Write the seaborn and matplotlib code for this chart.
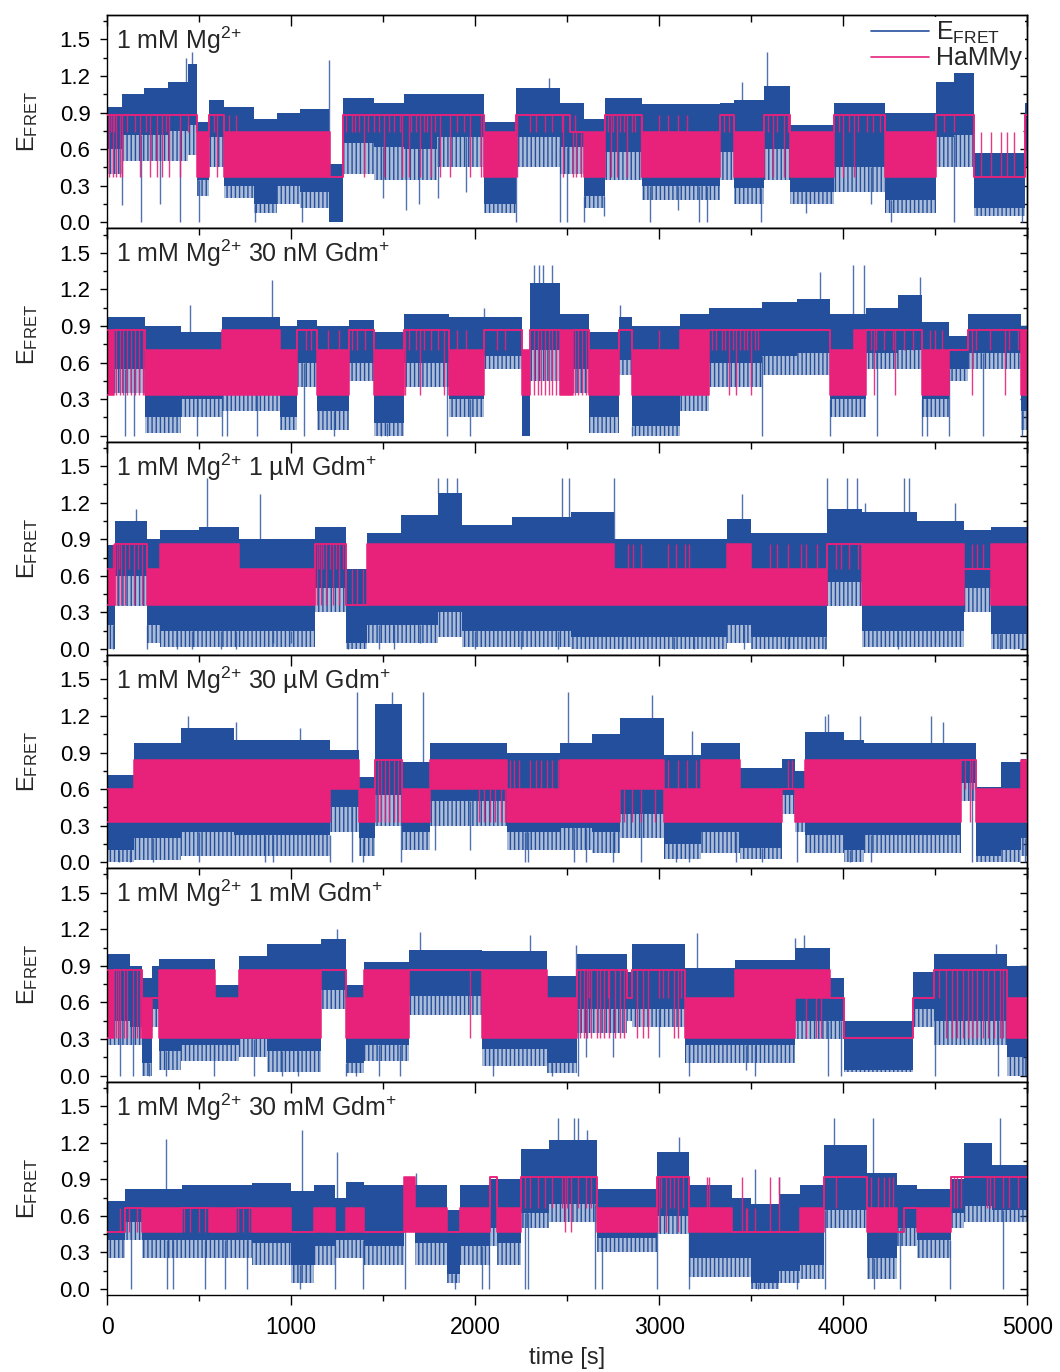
import numpy as np
import pandas as pd
import matplotlib
matplotlib.use("Agg")
import matplotlib.pyplot as plt
import seaborn as sns
from matplotlib.lines import Line2D
from matplotlib.colors import to_rgba
from matplotlib.ticker import MultipleLocator, FormatStrFormatter

# ---------------- data ----------------
LABELS = ["1 mM Mg$^{2{+}}$",
          "1 mM Mg$^{2{+}}$ 30 nM Gdm$^{+}$",
          "1 mM Mg$^{2{+}}$ 1 µM Gdm$^{+}$",
          "1 mM Mg$^{2{+}}$ 30 µM Gdm$^{+}$",
          "1 mM Mg$^{2{+}}$ 1 mM Gdm$^{+}$",
          "1 mM Mg$^{2{+}}$ 30 mM Gdm$^{+}$"]
X_TICKS = [0, 1000, 2000, 3000, 4000, 5000]
Y_TICKS = [0.0, 0.3, 0.6, 0.9, 1.2, 1.5]

# BLUE_T: segment limits [s]; BLUE_LO: lowest excursions; BLUE_CORE: lower edge of the
# dense part of the trace; BLUE_HI: upper edge of the trace; SPIKE_*: single excursions.
# HMM_*: HaMMy path, LO/HI equal for a dwell, different for fast switching between them.
# TO_LOW/MID/HIGH: times of brief HaMMy visits to the low/middle/high state.

# ---- panel 1 ----
P1_STATES = [0.37, 0.74, 0.88]
P1_BLUE_T = [0, 80, 200, 330, 440, 490, 553, 634, 797, 924, 1050, 1205, 1283, 1450, 1613, 1794, 2048, 2220, 2464, 2590, 2708, 2908, 3333, 3406, 3569, 3714, 3950, 4230, 4502, 4600, 4711, 4990, 5000]
P1_BLUE_LO = [0.40, 0.50, 0.50, 0.50, 0.55, 0.22, 0.45, 0.20, 0.08, 0.15, 0.12, 0.00, 0.40, 0.35, 0.35, 0.45, 0.08, 0.45, 0.40, 0.12, 0.35, 0.18, 0.35, 0.15, 0.35, 0.15, 0.25, 0.08, 0.45, 0.45, 0.05, 0.45]
P1_BLUE_CORE = [0.60, 0.72, 0.72, 0.75, 0.80, 0.35, 0.70, 0.30, 0.15, 0.30, 0.25, 0.00, 0.65, 0.62, 0.60, 0.70, 0.15, 0.70, 0.62, 0.22, 0.58, 0.30, 0.58, 0.28, 0.60, 0.25, 0.45, 0.18, 0.70, 0.72, 0.12, 0.60]
P1_BLUE_HI = [0.95, 1.05, 1.10, 1.15, 1.30, 0.82, 1.00, 0.95, 0.85, 0.90, 0.93, 0.48, 1.02, 0.98, 1.05, 1.05, 0.82, 1.10, 0.98, 0.85, 1.02, 0.97, 0.98, 1.00, 1.12, 0.80, 0.98, 0.90, 1.15, 1.30, 0.57, 0.98]
P1_SPIKE_T = [81, 185, 290, 399, 430, 460, 498, 806, 1060, 1205, 1500, 1627, 1694, 1800, 1950, 2220, 2400, 2464, 2500, 2591, 2700, 2953, 3100, 3216, 3261, 3451, 3551, 3587, 3800, 4150, 4258, 4602, 4650, 4690, 4973]
P1_SPIKE_Y = [0.14, 0.00, 0.15, 0.00, 1.35, 1.40, 0.00, 0.00, 0.00, 1.33, 0.20, 0.10, 0.15, 0.20, 0.25, 0.00, 1.18, 0.00, 0.00, 0.00, 0.05, 0.00, 0.10, 0.00, 0.00, 1.15, 0.00, 1.40, 0.08, 0.15, 0.00, 0.00, 1.40, 1.40, 0.00]
P1_HMM_T = [0, 490, 553, 634, 1214, 1283, 2048, 2220, 2518, 2590, 2708, 2908, 3333, 3406, 3569, 3714, 3950, 4230, 4502, 4711, 4990, 5000]
P1_HMM_LO = [0.88, 0.37, 0.88, 0.37, 0.37, 0.88, 0.37, 0.88, 0.74, 0.37, 0.88, 0.37, 0.88, 0.37, 0.88, 0.37, 0.88, 0.37, 0.88, 0.37, 0.88]
P1_HMM_HI = [0.88, 0.74, 0.88, 0.74, 0.37, 0.88, 0.74, 0.88, 0.74, 0.74, 0.88, 0.74, 0.88, 0.74, 0.88, 0.74, 0.88, 0.74, 0.88, 0.37, 0.88]
P1_TO_LOW = [12, 30, 50, 70, 81, 181, 236, 272, 299, 335, 399, 600, 1395, 1504, 1603, 1640, 1700, 1760, 1812, 1866, 1975, 2030, 2230, 2480, 2530, 2550, 2575, 2736, 2772, 2826, 2899, 3620, 3680, 4000, 4060]
P1_TO_MID = [20, 40, 110, 150, 210, 320, 440, 580, 1300, 1330, 1350, 1370, 1420, 1450, 1480, 1530, 1560, 1590, 1650, 1680, 1720, 1740, 1780, 1900, 1940, 2300, 2330, 2380, 2420, 2470, 2720, 2750, 2790, 2810, 2850, 2870, 3350, 3380, 3590, 3640, 3700, 3980, 4030, 4080, 4130, 4160, 4200, 4548, 4602, 4747, 4801, 4856, 4892, 4928]
P1_TO_HIGH = [660, 700, 2545, 3000, 3050, 3100, 3150]

# ---- panel 2 ----
P2_STATES = [0.33, 0.70, 0.87]
P2_BLUE_T = [0, 208, 400, 625, 940, 1032, 1140, 1313, 1450, 1613, 1857, 2048, 2256, 2301, 2464, 2618, 2781, 2853, 3116, 3270, 3560, 3750, 3928, 4122, 4300, 4430, 4575, 4678, 4964, 5000]
P2_BLUE_LO = [0.35, 0.02, 0.15, 0.20, 0.05, 0.40, 0.05, 0.45, 0.00, 0.40, 0.15, 0.55, 0.00, 0.45, 0.35, 0.02, 0.50, 0.00, 0.20, 0.40, 0.50, 0.50, 0.15, 0.55, 0.55, 0.15, 0.45, 0.55, 0.05]
P2_BLUE_CORE = [0.55, 0.15, 0.30, 0.35, 0.15, 0.60, 0.20, 0.60, 0.10, 0.60, 0.30, 0.65, 0.00, 0.70, 0.55, 0.15, 0.62, 0.08, 0.40, 0.60, 0.65, 0.68, 0.30, 0.68, 0.70, 0.30, 0.55, 0.68, 0.20]
P2_BLUE_HI = [0.97, 0.90, 0.85, 0.97, 0.90, 0.95, 0.90, 0.95, 0.85, 1.00, 0.97, 0.97, 0.70, 1.25, 1.00, 0.85, 0.97, 0.90, 1.00, 1.05, 1.10, 1.12, 1.00, 1.05, 1.15, 0.93, 0.82, 1.00, 0.90]
P2_SPIKE_T = [100, 145, 453, 489, 625, 652, 815, 897, 1069, 1232, 1486, 1522, 1848, 1975, 2048, 2320, 2345, 2370, 2420, 2786, 2853, 3560, 3877, 3928, 4055, 4113, 4185, 4420, 4430, 4457, 4575, 4761, 4973]
P2_SPIKE_Y = [0.00, 0.00, 1.07, 0.00, 0.00, 0.00, 0.00, 1.28, 0.00, 0.00, 0.00, 0.00, 0.00, 0.00, 1.05, 1.40, 1.40, 1.40, 1.40, 1.07, 0.00, 0.00, 1.34, 0.00, 1.40, 1.40, 0.00, 1.30, 0.00, 0.00, 0.00, 0.00, 0.00]
P2_HMM_T = [0, 40, 208, 625, 940, 1032, 1140, 1313, 1450, 1613, 1857, 2048, 2256, 2301, 2464, 2530, 2618, 2781, 2853, 3116, 3270, 3928, 4060, 4122, 4430, 4575, 4678, 4964, 5000]
P2_HMM_LO = [0.33, 0.87, 0.33, 0.33, 0.33, 0.87, 0.33, 0.87, 0.33, 0.87, 0.33, 0.87, 0.33, 0.87, 0.33, 0.87, 0.33, 0.87, 0.33, 0.33, 0.87, 0.33, 0.33, 0.87, 0.33, 0.70, 0.87, 0.33]
P2_HMM_HI = [0.87, 0.87, 0.70, 0.87, 0.70, 0.87, 0.70, 0.87, 0.70, 0.87, 0.70, 0.87, 0.70, 0.87, 0.87, 0.87, 0.70, 0.87, 0.70, 0.87, 0.87, 0.70, 0.87, 0.87, 0.70, 0.70, 0.87, 0.87]
P2_TO_LOW = [50, 70, 85, 110, 130, 150, 175, 195, 1620, 1700, 1830, 2320, 2340, 2360, 2380, 2400, 2420, 2440, 2545, 2560, 2580, 2600, 3380, 3420, 3500, 4170, 4280, 4700, 4880]
P2_TO_MID = [1080, 1110, 1330, 1360, 1400, 1640, 1680, 1720, 1760, 1800, 2120, 2160, 3290, 3310, 3340, 3360, 3400, 3440, 3460, 3480, 3520, 3540, 4150, 4180, 4220, 4270, 4330, 4380, 4720, 4800, 4900, 4950]
P2_TO_HIGH = [1200, 1260, 1900, 1950, 3000, 4470, 4500, 4540]

# ---- panel 3 ----
P3_STATES = [0.36, 0.66, 0.86]
P3_BLUE_T = [0, 45, 217, 290, 500, 716, 1132, 1296, 1413, 1600, 1800, 1930, 2200, 2520, 2754, 3370, 3497, 3913, 4104, 4400, 4656, 4801, 5000]
P3_BLUE_LO = [0.00, 0.35, 0.05, 0.02, 0.02, 0.02, 0.30, 0.00, 0.05, 0.05, 0.10, 0.02, 0.02, 0.00, 0.00, 0.05, 0.00, 0.35, 0.02, 0.02, 0.30, 0.00]
P3_BLUE_CORE = [0.20, 0.60, 0.20, 0.15, 0.15, 0.15, 0.50, 0.05, 0.20, 0.20, 0.30, 0.15, 0.15, 0.10, 0.10, 0.20, 0.10, 0.55, 0.15, 0.15, 0.50, 0.12]
P3_BLUE_HI = [0.85, 1.05, 0.90, 0.98, 1.00, 0.90, 1.00, 0.66, 0.95, 1.10, 1.28, 1.02, 1.08, 1.12, 0.90, 1.07, 0.95, 1.15, 1.12, 1.05, 0.98, 1.00]
P3_SPIKE_T = [30, 155, 217, 380, 460, 545, 620, 700, 829, 900, 1000, 1310, 1480, 1560, 1700, 1800, 1850, 1900, 2000, 2250, 2450, 2475, 2511, 2754, 2800, 3080, 3190, 3451, 3460, 3700, 3800, 3900, 3913, 4022, 4073, 4120, 4300, 4330, 4357, 4500, 4610, 4850, 4930]
P3_SPIKE_Y = [0.00, 1.15, 0.00, 0.00, 0.00, 1.40, 0.00, 0.00, 1.27, 0.05, 0.05, 0.00, 0.00, 0.00, 0.05, 1.40, 1.40, 1.40, 0.00, 0.00, 0.00, 1.40, 1.40, 1.40, 0.00, 0.00, 0.00, 1.27, 0.00, 0.00, 0.00, 0.00, 1.40, 1.40, 1.40, 1.20, 0.00, 1.40, 1.40, 0.05, 1.20, 0.00, 0.00]
P3_HMM_T = [0, 45, 217, 290, 716, 1132, 1296, 1413, 2754, 3370, 3497, 3913, 4104, 4656, 4801, 5000]
P3_HMM_LO = [0.36, 0.86, 0.36, 0.36, 0.36, 0.86, 0.36, 0.36, 0.36, 0.36, 0.36, 0.86, 0.36, 0.66, 0.36]
P3_HMM_HI = [0.66, 0.86, 0.66, 0.86, 0.66, 0.86, 0.36, 0.86, 0.66, 0.86, 0.66, 0.86, 0.86, 0.66, 0.86]
P3_TO_LOW = [55, 75, 100, 145, 190, 1140, 1160, 1190, 1230, 1260]
P3_TO_MID = [65, 120, 170, 1150, 1175, 1210, 1245, 1280, 1330, 1360, 1390, 3960, 3990, 4030, 4080]
P3_TO_HIGH = [30, 2830, 2860, 2900, 3050, 3090, 3140, 3160, 3600, 3640, 3700, 3770, 3800, 3860, 4700, 4730, 4760]

# ---- panel 4 ----
P4_STATES = [0.33, 0.60, 0.84]
P4_BLUE_T = [0, 145, 400, 690, 1000, 1214, 1368, 1458, 1603, 1757, 2174, 2464, 2636, 2790, 3025, 3225, 3442, 3669, 3741, 3795, 4004, 4113, 4638, 4720, 4856, 4964, 5000]
P4_BLUE_LO = [0.00, 0.02, 0.05, 0.05, 0.05, 0.25, 0.05, 0.30, 0.10, 0.30, 0.10, 0.10, 0.08, 0.20, 0.03, 0.08, 0.03, 0.40, 0.25, 0.08, 0.00, 0.08, 0.50, 0.00, 0.00, 0.05]
P4_BLUE_CORE = [0.10, 0.20, 0.25, 0.22, 0.22, 0.45, 0.20, 0.55, 0.25, 0.50, 0.25, 0.28, 0.25, 0.40, 0.15, 0.25, 0.12, 0.55, 0.40, 0.22, 0.10, 0.22, 0.65, 0.05, 0.10, 0.20]
P4_BLUE_HI = [0.72, 0.98, 1.10, 1.00, 1.00, 0.92, 0.70, 1.30, 0.82, 0.98, 0.90, 0.98, 1.05, 1.18, 0.88, 0.98, 0.77, 0.85, 0.75, 1.07, 1.00, 0.98, 0.98, 0.62, 0.82, 0.85]
P4_SPIKE_T = [65, 125, 250, 440, 500, 700, 860, 900, 1050, 1210, 1330, 1359, 1390, 1550, 1600, 1718, 1780, 1970, 2270, 2290, 2505, 2540, 2600, 2750, 2900, 2960, 3090, 3160, 3180, 3420, 3560, 3750, 3900, 3920, 4040, 4090, 4150, 4475, 4545, 4700, 4990]
P4_SPIKE_Y = [0.00, 0.00, 0.00, 1.20, 0.00, 1.15, 0.00, 0.00, 1.10, 0.00, 0.00, 1.40, 0.00, 1.40, 0.00, 1.40, 0.10, 0.10, 0.00, 0.00, 1.40, 0.00, 0.00, 0.00, 0.00, 1.37, 0.00, 0.00, 1.08, 0.00, 0.00, 0.00, 1.20, 1.22, 0.00, 1.20, 0.00, 1.20, 1.15, 0.00, 0.00]
P4_HMM_T = [0, 145, 1214, 1368, 1458, 1603, 1757, 2174, 2464, 2790, 3025, 3225, 3442, 3669, 3741, 3795, 4638, 4720, 4964, 5000]
P4_HMM_LO = [0.33, 0.33, 0.60, 0.33, 0.84, 0.33, 0.60, 0.33, 0.33, 0.60, 0.33, 0.33, 0.33, 0.60, 0.33, 0.33, 0.84, 0.33, 0.33]
P4_HMM_HI = [0.60, 0.84, 0.84, 0.60, 0.84, 0.60, 0.84, 0.60, 0.84, 0.84, 0.60, 0.84, 0.60, 0.60, 0.60, 0.84, 0.84, 0.60, 0.84]
P4_TO_LOW = [1470, 1490, 1510, 1530, 1560, 1580, 2020, 2050, 2080, 2110, 2140, 2160, 2810, 2850, 2900, 2980, 4690]
P4_TO_MID = [4660, 4700]
P4_TO_HIGH = [2190, 2210, 2240, 2300, 2330, 2360, 2390, 2420, 2450, 3050, 3100, 3150, 3200, 3700, 3720]

# ---- panel 5 ----
P5_STATES = [0.31, 0.64, 0.87]
P5_BLUE_T = [0, 125, 190, 245, 281, 400, 589, 716, 870, 1160, 1296, 1395, 1640, 2038, 2392, 2554, 2826, 2853, 3143, 3415, 3740, 3930, 4004, 4381, 4493, 4892, 5000]
P5_BLUE_LO = [0.25, 0.25, 0.00, 0.40, 0.05, 0.12, 0.12, 0.15, 0.03, 0.55, 0.02, 0.12, 0.50, 0.08, 0.02, 0.35, 0.45, 0.40, 0.10, 0.10, 0.30, 0.30, 0.03, 0.40, 0.25, 0.00]
P5_BLUE_CORE = [0.45, 0.40, 0.10, 0.55, 0.20, 0.25, 0.25, 0.30, 0.20, 0.70, 0.10, 0.25, 0.65, 0.22, 0.10, 0.55, 0.55, 0.55, 0.25, 0.25, 0.45, 0.45, 0.05, 0.55, 0.45, 0.15]
P5_BLUE_HI = [1.00, 0.90, 0.80, 0.90, 0.96, 0.96, 0.74, 0.98, 1.08, 1.12, 0.74, 0.93, 1.03, 1.02, 0.82, 1.00, 0.85, 1.08, 0.88, 0.95, 1.05, 0.80, 0.45, 0.85, 1.00, 0.90]
P5_SPIKE_T = [72, 140, 230, 320, 580, 800, 950, 1040, 1250, 1300, 1355, 1480, 1590, 1700, 2100, 2300, 2420, 2550, 2560, 2600, 2750, 3000, 3165, 3205, 3470, 3520, 3740, 3790, 3920, 3990, 4500, 4830, 4840, 4990]
P5_SPIKE_Y = [0.00, 0.00, 0.00, 0.00, 0.00, 0.00, 0.00, 0.00, 1.20, 0.00, 0.00, 0.00, 0.00, 1.18, 0.00, 1.15, 0.00, 1.07, 0.00, 0.15, 0.15, 0.15, 0.00, 1.17, 0.05, 0.00, 1.13, 1.15, 0.00, 0.00, 0.00, 1.08, 0.00, 0.00]
P5_HMM_T = [0, 40, 190, 245, 281, 589, 716, 1160, 1296, 1395, 1640, 2038, 2392, 2554, 2826, 2853, 3143, 3415, 3740, 3930, 4004, 4381, 4493, 4892, 5000]
P5_HMM_LO = [0.31, 0.87, 0.31, 0.64, 0.31, 0.31, 0.31, 0.87, 0.31, 0.31, 0.87, 0.31, 0.31, 0.87, 0.64, 0.87, 0.31, 0.31, 0.64, 0.64, 0.31, 0.64, 0.87, 0.31]
P5_HMM_HI = [0.87, 0.87, 0.64, 0.64, 0.87, 0.64, 0.87, 0.87, 0.64, 0.87, 0.87, 0.87, 0.64, 0.87, 0.64, 0.87, 0.64, 0.87, 0.87, 0.64, 0.31, 0.64, 0.87, 0.64]
P5_TO_LOW = [50, 60, 70, 90, 110, 140, 160, 180, 1975, 2570, 2590, 2610, 2630, 2660, 2680, 2700, 2730, 2760, 2790, 2810, 2880, 2910, 2940, 3080, 3100, 3800, 3850, 3880, 4560, 4590, 4620, 4650, 4680, 4700, 4730, 4760, 4790, 4820, 4850, 4870]
P5_TO_MID = [2620, 2720, 3000, 3020, 3050, 3120, 4520]
P5_TO_HIGH = []

# ---- panel 6 ----
P6_STATES = [0.47, 0.66, 0.92]
P6_BLUE_T = [0, 100, 190, 408, 553, 788, 997, 1123, 1241, 1296, 1395, 1613, 1676, 1848, 1920, 2083, 2120, 2247, 2400, 2663, 2989, 3161, 3397, 3497, 3650, 3768, 3895, 4131, 4294, 4403, 4584, 4656, 4810, 5000]
P6_BLUE_LO = [0.25, 0.40, 0.25, 0.25, 0.25, 0.20, 0.05, 0.20, 0.25, 0.25, 0.20, 0.50, 0.20, 0.05, 0.20, 0.35, 0.20, 0.50, 0.55, 0.30, 0.45, 0.10, 0.10, 0.00, 0.05, 0.08, 0.50, 0.08, 0.35, 0.25, 0.50, 0.55, 0.55]
P6_BLUE_CORE = [0.40, 0.55, 0.40, 0.40, 0.40, 0.38, 0.20, 0.35, 0.40, 0.40, 0.35, 0.62, 0.38, 0.12, 0.35, 0.50, 0.38, 0.62, 0.70, 0.42, 0.60, 0.25, 0.25, 0.05, 0.15, 0.20, 0.65, 0.25, 0.50, 0.40, 0.62, 0.68, 0.65]
P6_BLUE_HI = [0.72, 0.82, 0.82, 0.85, 0.85, 0.87, 0.80, 0.85, 0.75, 0.88, 0.85, 0.92, 0.85, 0.65, 0.85, 0.90, 0.90, 1.15, 1.22, 0.82, 1.12, 0.85, 0.75, 0.70, 0.78, 0.85, 1.18, 0.95, 0.85, 0.82, 0.90, 1.20, 1.02]
P6_SPIKE_T = [128, 321, 325, 360, 530, 640, 760, 1050, 1059, 1240, 1250, 1390, 1620, 1680, 1890, 2040, 2075, 2270, 2290, 2450, 2540, 2560, 2610, 2650, 2690, 2990, 3110, 3160, 3520, 3540, 3650, 3750, 3900, 3950, 4160, 4170, 4310, 4580, 4850, 4870]
P6_SPIKE_Y = [0.00, 1.23, 0.00, 0.00, 0.00, 0.00, 0.00, 0.00, 1.30, 0.00, 1.12, 0.00, 0.00, 0.95, 0.00, 0.00, 0.00, 0.00, 0.00, 1.40, 1.40, 1.40, 1.30, 0.00, 0.00, 0.00, 1.25, 0.00, 0.98, 0.00, 0.92, 0.00, 0.00, 1.40, 1.40, 0.00, 0.00, 0.00, 1.40, 0.00]
P6_HMM_T = [0, 100, 190, 408, 553, 698, 788, 997, 1123, 1241, 1296, 1395, 1613, 1676, 1848, 1920, 2083, 2120, 2247, 2663, 2989, 3161, 3397, 3768, 3895, 4131, 4294, 4330, 4403, 4584, 5000]
P6_HMM_LO = [0.47, 0.66, 0.47, 0.66, 0.47, 0.66, 0.47, 0.47, 0.47, 0.47, 0.47, 0.47, 0.47, 0.47, 0.47, 0.47, 0.92, 0.47, 0.92, 0.47, 0.92, 0.47, 0.47, 0.47, 0.92, 0.47, 0.47, 0.66, 0.47, 0.92]
P6_HMM_HI = [0.47, 0.66, 0.66, 0.66, 0.66, 0.66, 0.66, 0.47, 0.66, 0.47, 0.66, 0.47, 0.92, 0.66, 0.47, 0.66, 0.92, 0.66, 0.92, 0.66, 0.92, 0.66, 0.47, 0.66, 0.92, 0.66, 0.47, 0.66, 0.66, 0.92]
P6_TO_LOW = [120, 160, 420, 450, 500, 530, 710, 740, 770, 2490, 2520, 3000, 3040, 3100]
P6_TO_MID = [70, 2270, 2300, 2340, 2380, 2420, 2470, 2500, 2560, 2600, 2630, 3010, 3060, 3080, 3130, 3470, 3480, 3520, 3960, 4600, 4620, 4640, 4780, 4800, 4820, 4870, 4900, 4950]
P6_TO_HIGH = [3260, 3270, 3450, 3600, 3650, 4150, 4190, 4220, 4250, 4270]

PANELS = [
    (P1_BLUE_T, P1_BLUE_LO, P1_BLUE_CORE, P1_BLUE_HI, P1_SPIKE_T, P1_SPIKE_Y, P1_HMM_T, P1_HMM_LO, P1_HMM_HI, P1_STATES, P1_TO_LOW, P1_TO_MID, P1_TO_HIGH),
    (P2_BLUE_T, P2_BLUE_LO, P2_BLUE_CORE, P2_BLUE_HI, P2_SPIKE_T, P2_SPIKE_Y, P2_HMM_T, P2_HMM_LO, P2_HMM_HI, P2_STATES, P2_TO_LOW, P2_TO_MID, P2_TO_HIGH),
    (P3_BLUE_T, P3_BLUE_LO, P3_BLUE_CORE, P3_BLUE_HI, P3_SPIKE_T, P3_SPIKE_Y, P3_HMM_T, P3_HMM_LO, P3_HMM_HI, P3_STATES, P3_TO_LOW, P3_TO_MID, P3_TO_HIGH),
    (P4_BLUE_T, P4_BLUE_LO, P4_BLUE_CORE, P4_BLUE_HI, P4_SPIKE_T, P4_SPIKE_Y, P4_HMM_T, P4_HMM_LO, P4_HMM_HI, P4_STATES, P4_TO_LOW, P4_TO_MID, P4_TO_HIGH),
    (P5_BLUE_T, P5_BLUE_LO, P5_BLUE_CORE, P5_BLUE_HI, P5_SPIKE_T, P5_SPIKE_Y, P5_HMM_T, P5_HMM_LO, P5_HMM_HI, P5_STATES, P5_TO_LOW, P5_TO_MID, P5_TO_HIGH),
    (P6_BLUE_T, P6_BLUE_LO, P6_BLUE_CORE, P6_BLUE_HI, P6_SPIKE_T, P6_SPIKE_Y, P6_HMM_T, P6_HMM_LO, P6_HMM_HI, P6_STATES, P6_TO_LOW, P6_TO_MID, P6_TO_HIGH),
]

# ---------------- style ----------------
BLUE = "#244f9d"
PINK = "#e8217b"

sns.set_theme(style="ticks")
plt.rcParams["font.family"] = ["Liberation Sans", "DejaVu Sans"]
plt.rcParams["mathtext.fontset"] = "custom"
plt.rcParams["mathtext.rm"] = "Liberation Sans"
plt.rcParams["mathtext.it"] = "Liberation Sans"
plt.rcParams["mathtext.default"] = "regular"
plt.rcParams["axes.edgecolor"] = "black"
plt.rcParams["axes.linewidth"] = 1.0
plt.rcParams["xtick.color"] = "black"
plt.rcParams["ytick.color"] = "black"
plt.rcParams["hatch.linewidth"] = 1.0
plt.rcParams["hatch.color"] = BLUE


def ext(a):
    a = np.asarray(a, float)
    return np.append(a, a[-1])


def draw_panel(ax, bt, blo, bcore, bhi, sp_t, sp_y, ht, hlo, hhi, states, to_low, to_mid, to_high):
    bt = np.asarray(bt, float)
    blo = np.asarray(blo, float)
    bcore = np.asarray(bcore, float)
    bhi = np.asarray(bhi, float)
    # E_FRET trace: sparse lower excursions (thin strokes) and dense part (solid)
    ax.fill_between(bt, ext(blo), ext(bcore), step="post",
                    facecolor=to_rgba(BLUE, 0.38), edgecolor=BLUE, hatch="||||",
                    lw=0, zorder=1)
    ax.fill_between(bt, ext(bcore), ext(bhi), step="post", color=BLUE, lw=0, zorder=1)
    sp_t = np.asarray(sp_t, float)
    sp_y = np.asarray(sp_y, float)
    i = np.clip(np.searchsorted(bt, sp_t, side="right") - 1, 0, len(blo) - 1)
    base = np.where(sp_y > bhi[i], bhi[i], bcore[i])
    ax.vlines(sp_t, np.minimum(base, sp_y), np.maximum(base, sp_y),
              color=BLUE, lw=1.0, alpha=0.8, zorder=1.5)
    # HaMMy fit
    ht = np.asarray(ht, float)
    hlo = np.asarray(hlo, float)
    hhi = np.asarray(hhi, float)
    ax.fill_between(ht, ext(hlo), ext(hhi), step="post", color=PINK, lw=0, zorder=2)
    df = pd.DataFrame({"t": ht, "hi": ext(hhi), "lo": ext(hlo)})
    for col in ("hi", "lo"):
        sns.lineplot(data=df, x="t", y=col, ax=ax, color=PINK, lw=1.1,
                     drawstyle="steps-post", estimator=None, sort=False,
                     legend=False, zorder=3)
    for targets, level in zip((to_low, to_mid, to_high), states):
        ft = np.asarray(targets, float)
        if ft.size == 0:
            continue
        j = np.clip(np.searchsorted(ht, ft, side="right") - 1, 0, len(hlo) - 1)
        up = level > hhi[j]
        dn = level < hlo[j]
        if up.any():
            ax.vlines(ft[up], hhi[j][up], level, color=PINK, lw=1.0, alpha=0.9, zorder=3)
        if dn.any():
            ax.vlines(ft[dn], level, hlo[j][dn], color=PINK, lw=1.0, alpha=0.9, zorder=3)


fig = plt.figure(figsize=(10.6, 13.72), dpi=100)
axes = fig.subplots(6, 1, sharex=True)
fig.subplots_adjust(left=0.101, right=0.969, top=0.989, bottom=0.0561, hspace=0)

for k, ax in enumerate(axes):
    draw_panel(ax, *PANELS[k])
    ax.set_xlim(0, 5000)
    ax.set_ylim(-0.05, 1.70)
    ax.set_yticks(Y_TICKS)
    ax.yaxis.set_minor_locator(MultipleLocator(0.15))
    ax.yaxis.set_major_formatter(FormatStrFormatter("%.1f"))
    ax.set_xticks(X_TICKS)
    ax.xaxis.set_minor_locator(MultipleLocator(500))
    ax.tick_params(axis="y", which="major", direction="out", length=5, width=1.0,
                   labelsize=16, pad=7, left=True, right=False)
    ax.tick_params(axis="y", which="minor", direction="out", length=3, width=1.0,
                   left=True, right=False)
    ax.tick_params(axis="x", which="major", direction="out", length=7, width=1.0,
                   labelsize=16.5, pad=8, bottom=True, top=False)
    ax.tick_params(axis="x", which="minor", direction="out", length=4, width=1.0,
                   bottom=True, top=False)
    secx = ax.secondary_xaxis("top")
    secx.set_xticks(X_TICKS)
    secx.xaxis.set_minor_locator(MultipleLocator(500))
    secx.tick_params(which="major", direction="in", length=8, width=1.0, labeltop=False)
    secx.tick_params(which="minor", direction="in", length=5, width=1.0, labeltop=False)
    secy = ax.secondary_yaxis("right")
    secy.set_yticks(Y_TICKS)
    secy.yaxis.set_minor_locator(MultipleLocator(0.15))
    secy.tick_params(which="major", direction="in", length=5, width=1.0, labelright=False)
    secy.tick_params(which="minor", direction="in", length=3, width=1.0, labelright=False)
    ax.set_ylabel("E$_{FRET}$", fontsize=17, labelpad=14)
    ax.set_xlabel("")
    ax.text(0.010, 0.955, LABELS[k], transform=ax.transAxes, ha="left", va="top",
            fontsize=18, zorder=6)

axes[-1].set_xlabel("time [s]", fontsize=17, labelpad=6)

handles = [Line2D([], [], color=BLUE, lw=1.2), Line2D([], [], color=PINK, lw=1.2)]
leg = axes[0].legend(handles, ["E$_{FRET}$", "HaMMy"], loc="upper right",
                     frameon=True, facecolor="white", edgecolor="none", framealpha=1,
                     fancybox=False, handlelength=2.3, handletextpad=0.3,
                     labelspacing=0.0, borderpad=0.12, borderaxespad=0.08, fontsize=18)
leg.set_zorder(10)

fig.savefig("out.png", dpi=100, facecolor="white")
